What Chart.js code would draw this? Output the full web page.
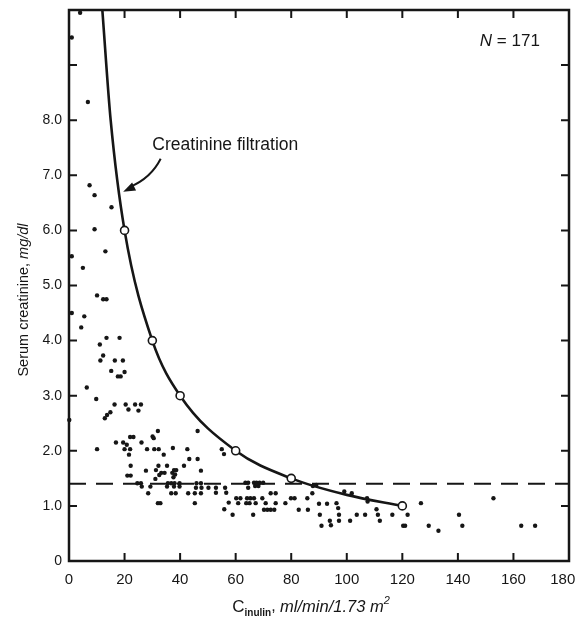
<!DOCTYPE html>
<html>
<head>
<meta charset="utf-8">
<title>Serum creatinine vs inulin clearance</title>
<script src="https://cdn.jsdelivr.net/npm/chart.js@4.4.1/dist/chart.umd.min.js"></script>
<style>
  html, body { margin: 0; padding: 0; background: #fff; }
  canvas { display: block; }
</style>
</head>
<body>
<canvas id="myChart" width="576" height="623"></canvas>
<script>
// tick values for both axes
let xTicks = [0, 20, 40, 60, 80, 100, 120, 140, 160, 180];
let yTicks = [0, 1, 2, 3, 4, 5, 6, 7, 8, 9, 10];

// patients: inulin clearance (ml/min/1.73 m2) and serum creatinine (mg/dl)
let inulinClearance = [
  1, 4, 6.8, 7.4, 9.2, 15.3, 9.2, 13.1, 1, 5, 10.1, 12.3, 13.5, 1, 5.5, 4.4, 13.5, 18.2, 11.1, 12.3,
  11.3, 16.5, 19.4, 15.2, 20, 17.6, 18.6, 6.4, 9.8, 16.4, 20.4, 23.8, 25.9, 21.4, 25, 14.9, 13.7, 12.9, 0.1, 32,
  46.3, 30.1, 30.5, 22, 23.2, 16.9, 19.5, 26.1, 20.8, 10.1, 20, 22, 28.1, 30.7, 32.3, 37.4, 42.6, 55, 55.8, 21.6,
  34.1, 43.3, 46.3, 22.2, 41.4, 32.2, 35.3, 27.7, 31.3, 37.8, 38.6, 47.5, 33.2, 34.4, 37.2, 38.2, 37.6, 21, 22.2, 32.5,
  31.1, 25.9, 24.6, 35.6, 36.8, 38, 39.8, 45.9, 47.5, 26.2, 29.3, 35.3, 37.8, 39.8, 45.7, 47.7, 50.2, 52.9, 56.2, 28.5,
  36.8, 38.4, 42.9, 45.3, 47.5, 52.9, 56.6, 60.2, 61.7, 32, 32.9, 45.3, 57.5, 60.9, 55.9, 58.9,
  63.5, 64.5, 66.6, 67.5, 68.6, 69.9, 64.5, 67, 68.2, 64.1, 65.3, 66.6, 69.6, 72.6, 74.4, 63.8, 65, 67.2, 70.8, 74.4,
  77.9, 70.2, 71.4, 72.6, 73.9, 66.3, 79.9, 81.2, 82.7, 86, 85.8, 87.6, 87.8, 89, 90, 92.9, 90.3, 90.9, 93.9, 94.3,
  96.3, 96.9, 97.2, 97.2, 101.2, 101.8, 99.1, 103.6, 106.6, 107.3, 107.5, 110.7, 111.2, 111.9, 116.4, 120.3,
  121.9, 121, 126.7, 129.5, 133, 140.4, 141.6, 152.8, 162.8, 167.8
];
let serumCreatinine = [
  9.5, 9.95, 8.33, 6.82, 6.64, 6.42, 6.02, 5.62, 5.53, 5.32, 4.82, 4.75, 4.75, 4.5, 4.44, 4.24, 4.05, 4.05, 3.93, 3.73,
  3.64, 3.64, 3.64, 3.45, 3.43, 3.35, 3.35, 3.15, 2.94, 2.84, 2.84, 2.84, 2.84, 2.75, 2.73, 2.7, 2.65, 2.59, 2.56, 2.36,
  2.36, 2.26, 2.23, 2.25, 2.25, 2.15, 2.15, 2.15, 2.11, 2.03, 2.03, 2.03, 2.03, 2.03, 2.03, 2.05, 2.03, 2.03, 1.94, 1.93,
  1.93, 1.85, 1.85, 1.73, 1.73, 1.73, 1.73, 1.64, 1.65, 1.65, 1.65, 1.64, 1.6, 1.6, 1.6, 1.57, 1.52, 1.55, 1.55, 1.56,
  1.49, 1.41, 1.41, 1.41, 1.41, 1.41, 1.41, 1.41, 1.41, 1.35, 1.35, 1.35, 1.35, 1.35, 1.33, 1.33, 1.33, 1.33, 1.33, 1.23,
  1.23, 1.23, 1.23, 1.23, 1.23, 1.24, 1.24, 1.14, 1.14, 1.05, 1.05, 1.05, 1.06, 1.05, 0.94, 0.84,
  1.42, 1.42, 1.42, 1.42, 1.42, 1.42, 1.33, 1.36, 1.36, 1.14, 1.14, 1.14, 1.14, 1.23, 1.23, 1.05, 1.05, 1.05, 1.05, 1.05,
  1.05, 0.93, 0.93, 0.93, 0.93, 0.84, 1.14, 1.14, 0.93, 0.93, 1.14, 1.23, 1.36, 1.38, 1.04, 1.04, 0.84, 0.64, 0.73, 0.65,
  1.05, 0.96, 0.84, 0.73, 0.73, 1.23, 1.26, 0.84, 0.84, 1.14, 1.08, 0.94, 0.84, 0.73, 0.84, 0.64,
  0.84, 0.64, 1.05, 0.64, 0.55, 0.84, 0.64, 1.14, 0.64, 0.64
];

// creatinine filtration curve
let curveX = [12, 15, 20, 30, 40, 60, 80, 100, 120];
let curveY = [10, 8, 6, 4, 3, 2, 1.5, 1.2, 1.0];
// open circles on the curve
let markedX = [20, 30, 40, 60, 80, 120];
let markedY = [6, 4, 3, 2, 1.5, 1.0];

// upper normal serum creatinine
let normalLimit = 1.4;

const FONT = '"Liberation Sans", Arial, Helvetica, sans-serif';
const INK = "#161616";

function pairs(xs, ys) {
  return xs.map((x, i) => ({ x: x, y: ys[i] }));
}

// box round the plot with inward ticks on all sides, plus the labels
const framePlugin = {
  id: "frame",
  afterDraw(chart) {
    const ctx = chart.ctx;
    const a = chart.chartArea;
    const xs = chart.scales.x;
    const ys = chart.scales.y;
    ctx.save();
    ctx.strokeStyle = INK;
    ctx.lineWidth = 2.5;
    ctx.strokeRect(a.left, a.top, a.right - a.left, a.bottom - a.top);

    ctx.lineWidth = 2;
    ctx.beginPath();
    xTicks.forEach((v) => {
      if (v === 0 || v === 180) return;
      const px = xs.getPixelForValue(v);
      ctx.moveTo(px, a.bottom);
      ctx.lineTo(px, a.bottom - 8);
      ctx.moveTo(px, a.top);
      ctx.lineTo(px, a.top + 8);
    });
    yTicks.forEach((v) => {
      if (v === 0 || v === 10) return;
      const py = ys.getPixelForValue(v);
      ctx.moveTo(a.left, py);
      ctx.lineTo(a.left + 8, py);
      ctx.moveTo(a.right, py);
      ctx.lineTo(a.right - 8, py);
    });
    ctx.stroke();

    // annotation for the curve
    ctx.fillStyle = INK;
    ctx.font = "17.5px " + FONT;
    ctx.textBaseline = "middle";
    ctx.textAlign = "left";
    ctx.fillText("Creatinine filtration", xs.getPixelForValue(30), ys.getPixelForValue(7.55));

    const sx = xs.getPixelForValue(33), sy = ys.getPixelForValue(7.3);
    const cx = xs.getPixelForValue(29.5), cy = ys.getPixelForValue(6.95);
    const tx = xs.getPixelForValue(19.5), ty = ys.getPixelForValue(6.7);
    ctx.lineWidth = 2;
    ctx.beginPath();
    ctx.moveTo(sx, sy);
    ctx.quadraticCurveTo(cx, cy, tx + 7, ty - 5);
    ctx.stroke();
    // arrow head
    const ang = Math.atan2(ty - cy, tx - cx);
    ctx.beginPath();
    ctx.moveTo(tx, ty);
    ctx.lineTo(tx - 13 * Math.cos(ang - 0.35), ty - 13 * Math.sin(ang - 0.35));
    ctx.lineTo(tx - 13 * Math.cos(ang + 0.35), ty - 13 * Math.sin(ang + 0.35));
    ctx.closePath();
    ctx.fill();

    // N = 171
    ctx.textAlign = "right";
    ctx.font = "17px " + FONT;
    const num = " = 171";
    const nx = xs.getPixelForValue(169.5), ny = ys.getPixelForValue(9.44);
    ctx.fillText(num, nx, ny);
    const w = ctx.measureText(num).width;
    ctx.font = "italic 17px " + FONT;
    ctx.fillText("N", nx - w, ny);

    // y axis title
    ctx.save();
    ctx.translate(24, 300);
    ctx.rotate(-Math.PI / 2);
    ctx.textAlign = "left";
    ctx.font = "14.5px " + FONT;
    const t1 = "Serum creatinine, ";
    const w1 = ctx.measureText(t1).width;
    ctx.font = "italic 14.5px " + FONT;
    const w2 = ctx.measureText("mg/dl").width;
    const start = -(w1 + w2) / 2;
    ctx.font = "14.5px " + FONT;
    ctx.fillText(t1, start, 0);
    ctx.font = "italic 14.5px " + FONT;
    ctx.fillText("mg/dl", start + w1, 0);
    ctx.restore();

    // x axis title: C with subscript, italic units, superscript 2
    const parts = [
      { t: "C", f: "17px " + FONT, dy: 0 },
      { t: "inulin", f: "bold 10px " + FONT, dy: 6 },
      { t: ", ", f: "16px " + FONT, dy: 0 },
      { t: "ml/min/1.73 m", f: "italic 16.5px " + FONT, dy: 0 },
      { t: "2", f: "italic 11px " + FONT, dy: -6 },
    ];
    ctx.textAlign = "left";
    let total = 0;
    parts.forEach((p) => { ctx.font = p.f; p.w = ctx.measureText(p.t).width; total += p.w; });
    let px = 311 - total / 2;
    parts.forEach((p) => {
      ctx.font = p.f;
      ctx.fillText(p.t, px, 607 + p.dy);
      px += p.w;
    });
    ctx.restore();
  },
};

let ctx = document.getElementById("myChart").getContext("2d");
let creatinineChart = new Chart(ctx, {
  type: "scatter",
  data: {
    datasets: [
      {
        label: "Patients",
        data: pairs(inulinClearance, serumCreatinine),
        backgroundColor: INK,
        borderColor: INK,
        pointRadius: 2.2,
        borderWidth: 0,
        clip: false,
        order: 4,
      },
      {
        type: "line",
        label: "Normal limit",
        data: [{ x: 0, y: normalLimit }, { x: 180, y: normalLimit }],
        borderColor: INK,
        borderWidth: 2,
        borderDash: [17, 10],
        pointRadius: 0,
        order: 3,
      },
      {
        type: "line",
        label: "Creatinine filtration",
        data: pairs(curveX, curveY),
        borderColor: INK,
        borderWidth: 2.6,
        cubicInterpolationMode: "monotone",
        pointRadius: 0,
        order: 2,
      },
      {
        label: "Curve points",
        data: pairs(markedX, markedY),
        backgroundColor: "#fff",
        borderColor: INK,
        borderWidth: 1.6,
        pointRadius: 4,
        order: 1,
      },
    ],
  },
  options: {
    responsive: false,
    animation: false,
    layout: { padding: { top: 10, right: 7, left: 0, bottom: 0 } },
    plugins: {
      legend: { display: false },
      tooltip: { enabled: false },
    },
    scales: {
      x: {
        type: "linear",
        min: 0,
        max: 180,
        afterBuildTicks: (s) => { s.ticks = xTicks.map((v) => ({ value: v })); },
        afterFit: (s) => { s.height = 62; s.paddingLeft = 0; s.paddingRight = 0; },
        grid: { display: false, drawTicks: false },
        border: { display: false },
        ticks: {
          padding: 10,
          color: INK,
          font: { family: FONT, size: 15 },
          maxRotation: 0,
          // last label pulled in so it stays on the canvas
          callback: (v) => (v === 180 ? "180   " : String(v)),
        },
      },
      y: {
        type: "linear",
        min: 0,
        max: 10,
        afterBuildTicks: (s) => { s.ticks = yTicks.map((v) => ({ value: v })); },
        afterFit: (s) => { s.width = 69; s.paddingTop = 0; s.paddingBottom = 0; },
        grid: { display: false, drawTicks: false },
        border: { display: false },
        ticks: {
          padding: 7,
          color: INK,
          font: { family: FONT, size: 14 },
          callback: (v) => (v === 0 ? "0" : v <= 8 ? v.toFixed(1) : ""),
        },
      },
    },
  },
  plugins: [framePlugin],
});
</script>
</body>
</html>
